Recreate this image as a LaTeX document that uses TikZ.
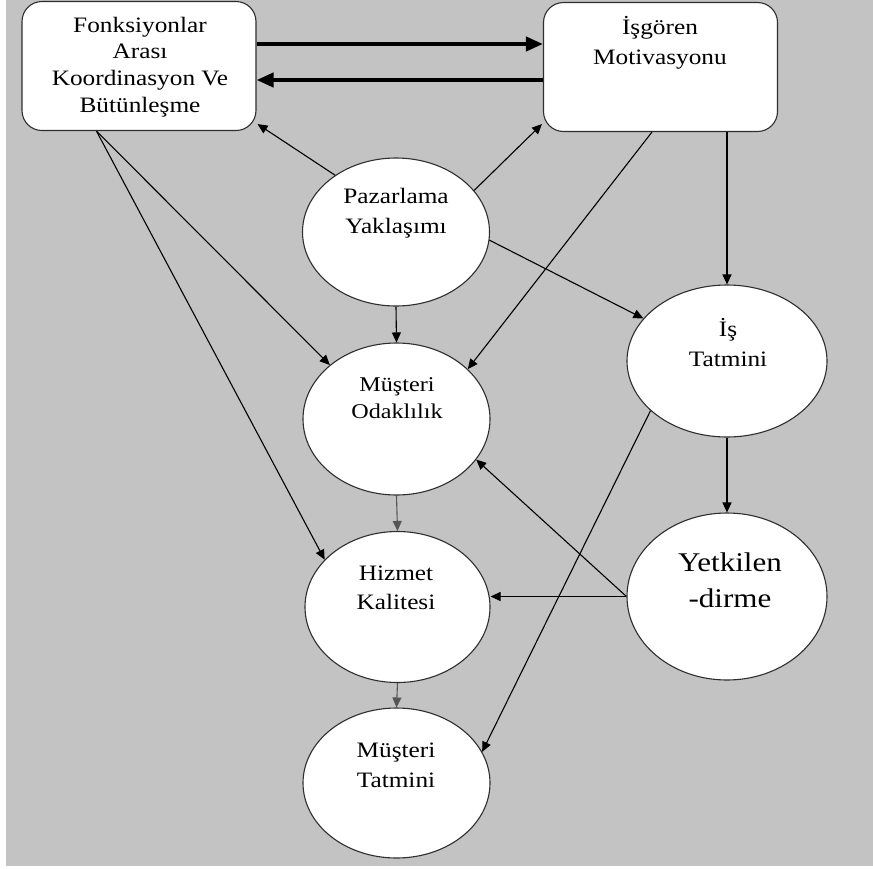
\documentclass[tikz,border=0pt]{standalone}
\usepackage{fontspec}
\setmainfont{Liberation Serif}[FakeStretch=1.15]
\usetikzlibrary{arrows.meta,shapes.geometric,calc}
\definecolor{panel}{HTML}{C3C3C3}
\definecolor{edge}{HTML}{2E2E2E}
\definecolor{softline}{HTML}{555555}

\begin{document}
\begin{tikzpicture}[x=1pt,y=-1pt,
  box/.style={draw=edge,line width=1.1pt,fill=white,rounded corners=20pt,
    minimum width=234pt,minimum height=129pt,inner sep=0pt},
  oval/.style={ellipse,draw=edge,line width=1.1pt,fill=white,inner sep=0pt},
  txt/.style={align=center,inner sep=0pt,text=black},
  link/.style={line width=1.1pt,-{Triangle[length=10pt,width=9pt]}},
  boldlink/.style={line width=4pt,-{Triangle[length=17pt,width=14pt]}},
]
% page and grey panel
\useasboundingbox (0,0) rectangle (873,868);
\fill[white] (0,0) rectangle (873,868);
\fill[panel] (6,0) rectangle (873,866);

% rounded boxes
\node[box] (A) at (139,66) {};
\node[box] (B) at (660.5,67) {};

% ellipses
\node[oval,minimum width=187pt,minimum height=148pt] (P)  at (396,232)   {};
\node[oval,minimum width=187pt,minimum height=152pt] (MO) at (396.5,419) {};
\node[oval,minimum width=185pt,minimum height=151pt] (HK) at (397.5,607) {};
\node[oval,minimum width=187pt,minimum height=150pt] (MT) at (396.5,783) {};
\node[oval,minimum width=200pt,minimum height=152pt] (IT) at (727,361)   {};
\node[oval,minimum width=200pt,minimum height=167pt] (Y)  at (727,596.5) {};

% texts
\node[txt,font=\fontsize{22}{26.7}\selectfont] (At) at (140,67)
  {Fonksiyonlar\\Arası\\Koordinasyon Ve\\Bütünleşme};
\node[txt,font=\fontsize{22}{30}\selectfont] (Bt) at (660,43) {İşgören\\Motivasyonu};
\node[txt,font=\fontsize{22}{30}\selectfont] (Pt) at (396,213) {Pazarlama\\Yaklaşımı};
\node[txt,font=\fontsize{21}{27}\selectfont] (MOt) at (397,398.5) {Müşteri\\Odaklılık};
\node[txt,font=\fontsize{22}{29}\selectfont] (HKt) at (396,587.5) {Hizmet\\Kalitesi};
\node[txt,font=\fontsize{22}{30}\selectfont] (MTt) at (396,765) {Müşteri\\Tatmini};
\node[txt,font=\fontsize{22}{30}\selectfont] (ITt) at (728,343) {İş\\Tatmini};
\node[txt,font=\fontsize{27}{36}\selectfont] (Yt) at (730,580) {Yetkilen\\-dirme};

% connection points on the boxes
\coordinate (Aout) at ($(A.south west)+(75,0)$);
\coordinate (Acorner) at ($(A.south east)+(1,-7)$);
\coordinate (Bcorner) at ($(B.south west)+(-1,-8)$);
\coordinate (Bout) at ($(B.south west)+(109,0)$);
\coordinate (AtoB) at ($(A.east)+(0,-22)$);
\coordinate (BtoA) at ($(B.west)+(0,13)$);

% thick two-way link between the boxes
\draw[boldlink] (AtoB) -- (AtoB -| B.west);
\draw[boldlink] (BtoA) -- (BtoA -| A.east);

% links
\draw[link] (P.137) -- (Acorner);
\draw[link] (P.28) -- (Bcorner);
\draw[link] (P.-5) -- (IT);
\draw[link] (Bout) -- (MO.35);
\draw[link] (B.south -| IT.north) -- (IT.north);
\draw[link] (P.south) -- (MO.north);
\draw[link] (Aout) -- (MO.141);
\draw[link] (Aout) -- (HK.147);
\draw[link,draw=softline] (MO.south) -- (HK.north);
\draw[link,draw=softline] (HK.south) -- (MT.north);
\draw[link] (IT.south) -- (Y.north);
\draw[link] (Y.west) -- (Y.west -| HK.east);
\draw[link] (Y.west) -- (MO.-27);
\draw[link] (IT.213) -- (MT.20);
\end{tikzpicture}
\end{document}
